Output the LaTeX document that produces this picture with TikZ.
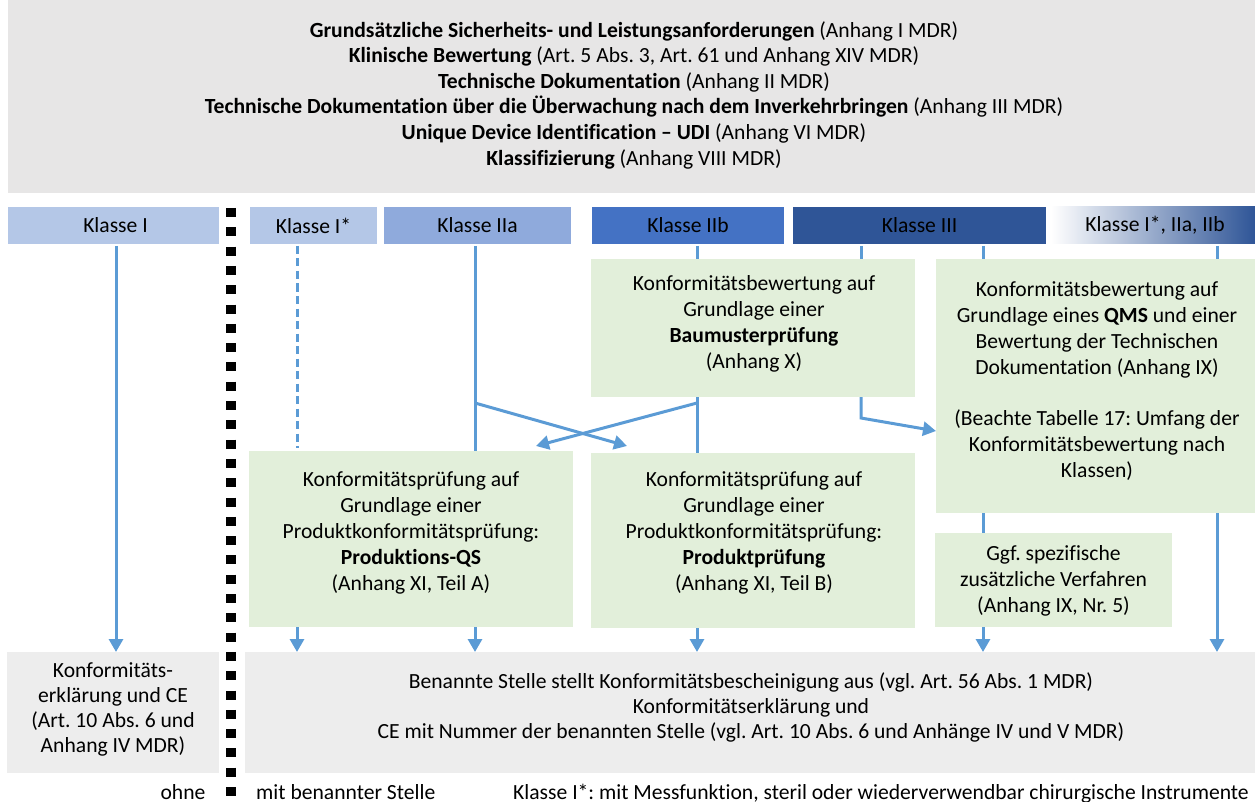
\documentclass[tikz,border=0pt]{standalone}
\usepackage{fontspec}
\setmainfont{Carlito}[Ligatures=NoCommon]
\usetikzlibrary{arrows.meta}
\definecolor{hdrgray}{HTML}{E7E6E6}
\definecolor{botgray}{HTML}{EDEDED}
\definecolor{clsI}{HTML}{B4C7E7}
\definecolor{clsIIa}{HTML}{8FAADC}
\definecolor{clsIIb}{HTML}{4472C4}
\definecolor{clsIII}{HTML}{2F5597}
\definecolor{procgreen}{HTML}{E2EFDA}
\definecolor{flow}{HTML}{5B9BD5}
\frenchspacing

\begin{document}
\begin{tikzpicture}[x=1pt,y=-1pt,
  panel/.style={rectangle, inner sep=0pt, outer sep=0pt},
  classbox/.style={panel, outer ysep=2pt, minimum height=37pt},
  procbox/.style={panel, fill=procgreen},
  txt/.style={inner sep=0pt, align=center, font=\fontsize{21.6}{26}\selectfont},
  hdrtxt/.style={inner sep=0pt, align=center, font=\fontsize{21.6}{25.6}\selectfont},
  bottxt/.style={inner sep=0pt, align=center, font=\fontsize{21.6}{25.2}\selectfont},
  flowline/.style={draw=flow, line width=3pt},
  flowarrow/.style={flowline, -{Triangle[width=14pt,length=13pt]}},
  flowdash/.style={flowline, dash pattern=on 8pt off 4.5pt},
  separator/.style={draw=black, line width=10pt, dash pattern=on 9pt off 10.3pt}
]
\useasboundingbox (0,0) rectangle (1255,802);

% requirements header
\node[panel, fill=hdrgray, minimum width=1247pt, minimum height=193pt] (hdr) at (631.5,96.5) {};
\node[hdrtxt] (hdrtxt) at (634,95) {%
  \textbf{Grundsätzliche Sicherheits- und Leistungsanforderungen} (Anhang I MDR)\\
  \textbf{Klinische Bewertung} (Art. 5 Abs. 3, Art. 61 und Anhang XIV MDR)\\
  \textbf{Technische Dokumentation} (Anhang II MDR)\\
  \textbf{Technische Dokumentation über die Überwachung nach dem Inverkehrbringen} (Anhang III MDR)\\
  \textbf{Unique Device Identification – UDI} (Anhang VI MDR)\\
  \textbf{Klassifizierung} (Anhang VIII MDR)};

% class headers
\node[classbox, fill=clsI, minimum width=211pt] (k1) at (113.5,225.5) {};
\node[txt] (k1txt) at ([xshift=2pt]k1.center) {Klasse I};
\node[classbox, fill=clsI, minimum width=127pt] (k1s) at (313.5,225.5) {};
\node[txt] (k1stxt) at (k1s.center) {Klasse I*};
\node[classbox, fill=clsIIa, minimum width=187pt] (k2a) at (477.5,225.5) {};
\node[txt] (k2atxt) at (k2a.center) {Klasse IIa};
\node[classbox, fill=clsIIb, minimum width=192pt] (k2b) at (688,225.5) {};
\node[txt] (k2btxt) at (k2b.center) {Klasse IIb};
\node[classbox, fill=clsIII, minimum width=253pt] (k3) at (919.5,225.5) {};
\node[txt] (k3txt) at (k3.center) {Klasse III};
\node[classbox, left color=white, right color=clsIII, minimum width=204pt] (kmix) at (1153,225.5) {};
\node[txt] (kmixtxt) at ([xshift=2pt]kmix.center) {Klasse I*, IIa, IIb};

% separator between procedures without and with notified body
\draw[separator] (230.5,208) -- (230.5,802);

% conformity assessment procedures
\node[procbox, minimum width=324pt, minimum height=138pt] (bm) at (753,328) {};
\node[txt] (bmtxt) at (754,323.5) {Konformitätsbewertung auf\\Grundlage einer\\\textbf{Baumusterprüfung}\\(Anhang X)};
\node[procbox, minimum width=319pt, minimum height=254pt] (qms) at (1095.5,386) {};
\node[txt] (qmstxt) at (1097,380.5) {Konformitätsbewertung auf\\Grundlage eines \textbf{QMS} und einer\\Bewertung der Technischen\\Dokumentation (Anhang IX)\\[25pt](Beachte Tabelle 17: Umfang der\\Konformitätsbewertung nach\\Klassen)};
\node[procbox, minimum width=324pt, minimum height=176pt] (pqs) at (411,539) {};
\node[txt] (pqstxt) at (411,533) {Konformitätsprüfung auf\\Grundlage einer\\Produktkonformitätsprüfung:\\\textbf{Produktions-QS}\\(Anhang XI, Teil A)};
\node[procbox, minimum width=324pt, minimum height=175pt] (pp) at (753,540.5) {};
\node[txt] (pptxt) at (754,533) {Konformitätsprüfung auf\\Grundlage einer\\Produktkonformitätsprüfung:\\\textbf{Produktprüfung}\\(Anhang XI, Teil B)};
\node[procbox, minimum width=237pt, minimum height=94pt] (ggf) at (1053.5,580) {};
\node[txt] (ggftxt) at (1053.5,581) {Ggf. spezifische\\zusätzliche Verfahren\\(Anhang IX, Nr. 5)};

% outcomes
\node[panel, fill=botgray, minimum width=212pt, minimum height=121pt] (konf) at (113,712.5) {};
\node[bottxt] (konftxt) at (113,709.5) {Konformitäts-\\erklärung und CE\\(Art. 10 Abs. 6 und\\Anhang IV MDR)};
\node[panel, fill=botgray, minimum width=1010pt, minimum height=121pt] (nb) at (750,712.5) {};
\node[bottxt] (nbtxt) at (751,707.5) {Benannte Stelle stellt Konformitätsbescheinigung aus (vgl. Art. 56 Abs. 1 MDR)\\Konformitätserklärung und\\CE mit Nummer der benannten Stelle (vgl. Art. 10 Abs. 6 und Anhänge IV und V MDR)};

% legend
\node[txt, anchor=base] (lgno) at (183,799) {ohne};
\node[txt, anchor=base west] (lgnb) at (256,799) {mit benannter Stelle};
\node[txt, anchor=base west] (lgcls) at (513,799) {Klasse I*: mit Messfunktion, steril oder wiederverwendbar chirurgische Instrumente};

% column positions and bend points of the flow lines
\coordinate (xG) at (116,0);
\coordinate (xA) at (297,0);
\coordinate (xB) at (475,0);
\coordinate (xC) at (697,0);
\coordinate (xD) at (861,0);
\coordinate (xE) at (983,0);
\coordinate (xF) at (1217,0);
\coordinate (forkB) at (475,403);
\coordinate (tipB) at (627,446);
\coordinate (forkC) at (697,403);
\coordinate (tipC) at (536,446);
\coordinate (bendD) at (861,418);
\coordinate (tipD) at (936,431);

% flow lines
\draw[flowarrow] (k1.south -| xG) -- (konf.north -| xG);
\draw[flowdash, shorten >=3pt] (k1s.south -| xA) -- (pqs.north -| xA);
\draw[flowarrow] (pqs.south -| xA) -- (nb.north -| xA);
\draw[flowline] (k2a.south -| xB) -- (pqs.north -| xB);
\draw[flowarrow] (forkB) -- (tipB);
\draw[flowarrow] (pqs.south -| xB) -- (nb.north -| xB);
\draw[flowline] (k2b.south -| xC) -- (bm.north -| xC);
\draw[flowline] (bm.south -| xC) -- (pp.north -| xC);
\draw[flowarrow] (forkC) -- (tipC);
\draw[flowarrow] (pp.south -| xC) -- (nb.north -| xC);
\draw[flowline] (k3.south -| xD) -- (bm.north -| xD);
\draw[flowarrow] (bm.south -| xD) -- (bendD) -- (tipD);
\draw[flowline] (k3.south -| xE) -- (qms.north -| xE);
\draw[flowline] (qms.south -| xE) -- (ggf.north -| xE);
\draw[flowarrow] (ggf.south -| xE) -- (nb.north -| xE);
\draw[flowline] (kmix.south -| xF) -- (qms.north -| xF);
\draw[flowarrow] (qms.south -| xF) -- (nb.north -| xF);
\end{tikzpicture}
\end{document}
